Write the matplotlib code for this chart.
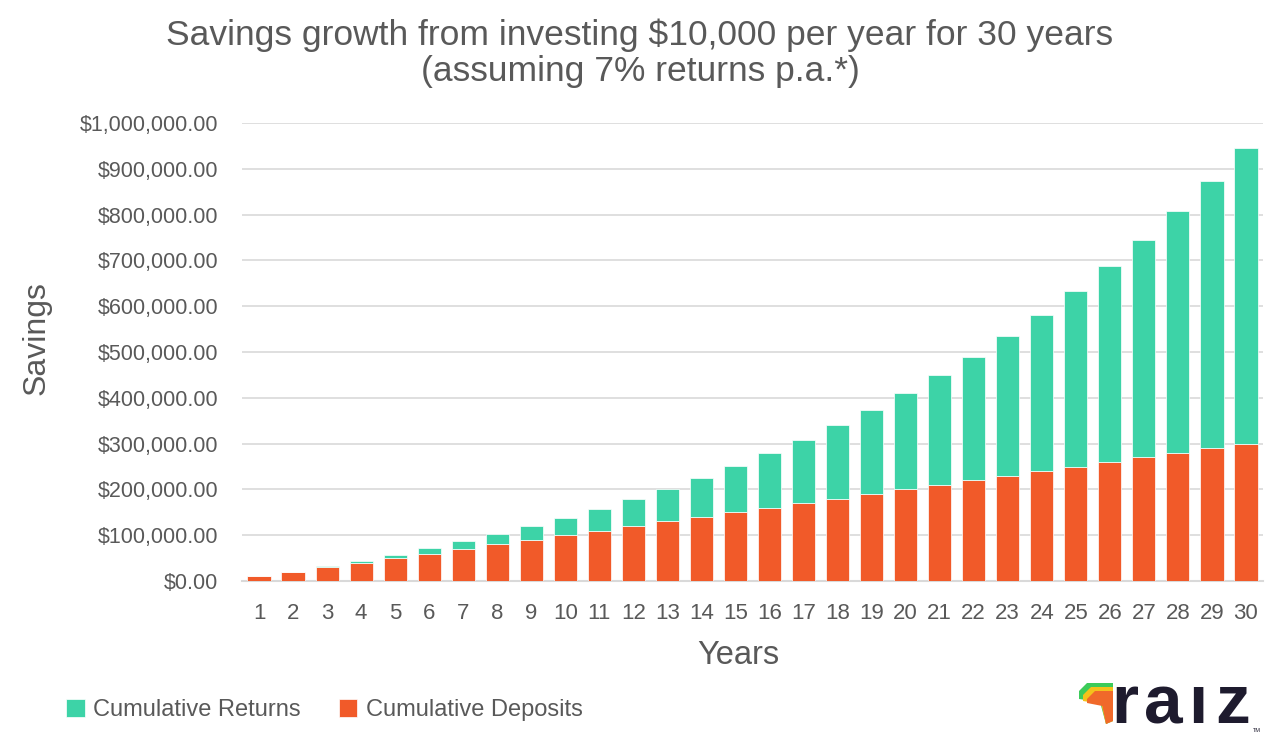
import matplotlib

matplotlib.use("Agg")
import matplotlib.pyplot as plt
from matplotlib.patches import Polygon
from matplotlib.ticker import FuncFormatter, MultipleLocator

TEXT = "#595959"
GRID = "#D9D9D9"
RETURNS_COLOR = "#3DD3A7"
DEPOSITS_COLOR = "#F15A29"

YEARS = list(range(1, 31))
# cumulative deposits and cumulative returns (dollars)
DEPOSITS = [10000, 20000, 30000, 40000, 50000, 60000, 70000, 80000, 90000, 100000,
            110000, 120000, 130000, 140000, 150000, 160000, 170000, 180000, 190000, 200000,
            210000, 220000, 230000, 240000, 250000, 260000, 270000, 280000, 290000, 300000]
RETURNS = [0, 700, 2100, 4400, 7500, 11500, 16500, 22600, 29800, 38200,
           47800, 58900, 71400, 85500, 101300, 118900, 138400, 160000, 183800, 210000,
           238700, 270100, 304400, 341800, 382500, 426800, 474800, 527000, 583500, 644600]

plt.rcParams["font.family"] = ["Liberation Sans", "DejaVu Sans"]

W, H = 1280, 753
fig = plt.figure(figsize=(12.8, 7.53), dpi=100)
ax = fig.add_axes([242 / W, 1 - 581 / H, 1021 / W, 458 / H])

ax.bar(YEARS, DEPOSITS, width=0.68, color=DEPOSITS_COLOR, edgecolor="white", lw=0.5,
       zorder=3, label="Cumulative Deposits")
ax.bar(YEARS, RETURNS, bottom=DEPOSITS, width=0.68, color=RETURNS_COLOR, edgecolor="white",
       lw=0.5, zorder=3, label="Cumulative Returns")

ax.set_xlim(0.5, 30.5)
ax.set_ylim(0, 1_000_000)
ax.set_xticks(YEARS)
ax.yaxis.set_major_locator(MultipleLocator(100_000))
ax.yaxis.set_major_formatter(FuncFormatter(lambda v, _: f"${v:,.2f}"))
ax.tick_params(axis="both", length=0, colors=TEXT)
ax.tick_params(axis="y", pad=17, labelsize=15.5)
ax.tick_params(axis="x", pad=16, labelsize=16)
ax.grid(axis="y", color=GRID, lw=1.2, zorder=0)
ax.spines[["top", "right", "left"]].set_visible(False)
ax.spines["bottom"].set_color(GRID)
ax.spines["bottom"].set_linewidth(1.5)

fig.text(37 / W, 1 - 338 / H, "Savings", rotation=90, ha="center", va="center",
         fontsize=23, color=TEXT)
fig.text(738 / W, 1 - 656 / H, "Years", ha="center", va="center", fontsize=23.5,
         color=TEXT)

fig.text(0.5, 1 - 18 / H, "Savings growth from investing $10,000 per year for 30 years\n"
         "(assuming 7% returns p.a.*)", ha="center", va="top", fontsize=25.5,
         color=TEXT, linespacing=1.15)

handles, labels = ax.get_legend_handles_labels()
fig.legend(handles[::-1], labels[::-1], loc="center left", bbox_to_anchor=(0.035, 1 - 710 / H),
           frameon=False, fontsize=17, labelcolor=TEXT, handlelength=0.8,
           handleheight=0.8, handletextpad=0.35, columnspacing=1.6, ncol=2)

# raiz logo (pixel coordinates, y down)
logo = fig.add_axes([0, 0, 1, 1], zorder=5)
logo.set_xlim(0, W)
logo.set_ylim(H, 0)
logo.axis("off")
for off, col in [(0, "#3CCB5A"), (4, "#F4C21B"), (8, "#F0692A")]:
    pts = [(1079 + off, 691 + off), (1087 + off, 683 + off), (1113, 683 + off),
           (1113, 721), (1106, 724), (1100 + off * 0.3, 702 + off * 0.5), (1079 + off, 699 + off * 0.5)]
    logo.add_patch(Polygon(pts, closed=True, color=col, lw=0))
for x, ch in [(1111, "r"), (1144, "a"), (1188, "ı"), (1215, "z")]:
    logo.text(x, 723, ch, fontsize=50, fontweight="bold", color="#1E1B2E",
              ha="left", va="baseline")
logo.text(1253, 730, "TM", fontsize=4, color="#1E1B2E", ha="left", va="center")

fig.savefig("out.png", dpi=100, facecolor="white")
